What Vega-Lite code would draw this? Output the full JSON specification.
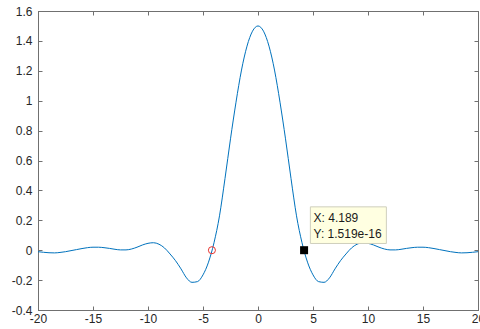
{
  "$schema": "https://vega.github.io/schema/vega-lite/v6.json",
  "width": 440,
  "height": 299,
  "autosize": {"type": "none"},
  "padding": {"left": 38, "top": 11, "right": 2, "bottom": 19},
  "background": "white",
  "config": {
    "view": {"stroke": "#707070", "strokeWidth": 1},
    "axis": {
      "grid": false,
      "domainColor": "#707070",
      "tickColor": "#707070",
      "labelColor": "#262626",
      "labelFont": "Liberation Sans",
      "labelFontSize": 12,
      "tickSize": -4,
      "title": null
    }
  },
  "datasets": {
    "curve": [
      {"x": -20, "y": -0.01}, {"x": -19.5, "y": -0.014}, {"x": -19, "y": -0.017}, {"x": -18.5, "y": -0.018},
      {"x": -18, "y": -0.015}, {"x": -17.5, "y": -0.01}, {"x": -17, "y": -0.003}, {"x": -16.5, "y": 0.004},
      {"x": -16, "y": 0.011}, {"x": -15.5, "y": 0.017}, {"x": -15, "y": 0.02}, {"x": -14.5, "y": 0.02},
      {"x": -14, "y": 0.017}, {"x": -13.5, "y": 0.012}, {"x": -13, "y": 0.006}, {"x": -12.5, "y": 0.002},
      {"x": -12, "y": 0.002}, {"x": -11.5, "y": 0.008}, {"x": -11, "y": 0.02}, {"x": -10.5, "y": 0.035},
      {"x": -10, "y": 0.046}, {"x": -9.5, "y": 0.05}, {"x": -9, "y": 0.04}, {"x": -8.5, "y": 0.015},
      {"x": -8, "y": -0.025}, {"x": -7.5, "y": -0.07}, {"x": -7, "y": -0.125}, {"x": -6.5, "y": -0.185},
      {"x": -6, "y": -0.215}, {"x": -5.5, "y": -0.21}, {"x": -5, "y": -0.165}, {"x": -4.5, "y": -0.08},
      {"x": -4, "y": 0.05}, {"x": -3.5, "y": 0.23}, {"x": -3, "y": 0.48}, {"x": -2.5, "y": 0.745},
      {"x": -2, "y": 0.99}, {"x": -1.5, "y": 1.205}, {"x": -1, "y": 1.365}, {"x": -0.5, "y": 1.465},
      {"x": 0, "y": 1.5},
      {"x": 0.5, "y": 1.465}, {"x": 1, "y": 1.365}, {"x": 1.5, "y": 1.205}, {"x": 2, "y": 0.99},
      {"x": 2.5, "y": 0.745}, {"x": 3, "y": 0.48}, {"x": 3.5, "y": 0.23}, {"x": 4, "y": 0.05},
      {"x": 4.5, "y": -0.08}, {"x": 5, "y": -0.165}, {"x": 5.5, "y": -0.21}, {"x": 6, "y": -0.215},
      {"x": 6.5, "y": -0.185}, {"x": 7, "y": -0.125}, {"x": 7.5, "y": -0.07}, {"x": 8, "y": -0.025},
      {"x": 8.5, "y": 0.015}, {"x": 9, "y": 0.04}, {"x": 9.5, "y": 0.05}, {"x": 10, "y": 0.046},
      {"x": 10.5, "y": 0.035}, {"x": 11, "y": 0.02}, {"x": 11.5, "y": 0.008}, {"x": 12, "y": 0.002},
      {"x": 12.5, "y": 0.002}, {"x": 13, "y": 0.006}, {"x": 13.5, "y": 0.012}, {"x": 14, "y": 0.017},
      {"x": 14.5, "y": 0.02}, {"x": 15, "y": 0.02}, {"x": 15.5, "y": 0.017}, {"x": 16, "y": 0.011},
      {"x": 16.5, "y": 0.004}, {"x": 17, "y": -0.003}, {"x": 17.5, "y": -0.01}, {"x": 18, "y": -0.015},
      {"x": 18.5, "y": -0.018}, {"x": 19, "y": -0.017}, {"x": 19.5, "y": -0.014}, {"x": 20, "y": -0.01}
    ],
    "tipbox": [{"x1": 4.76, "x2": 11.67, "y1": 0.045, "y2": 0.29}],
    "tiptext": [
      {"x": 5.05, "y": 0.215, "label": "X: 4.189"},
      {"x": 5.05, "y": 0.11, "label": "Y: 1.519e-16"}
    ],
    "circle": [{"x": -4.189, "y": 0}],
    "marker": [{"x": 4.189, "y": 0}]
  },
  "resolve": {"axis": {"x": "independent", "y": "independent"}},
  "layer": [
    {
      "data": {"name": "curve"},
      "mark": {"type": "line", "color": "#0072BD", "strokeWidth": 1, "interpolate": "monotone"},
      "encoding": {
        "x": {"field": "x", "type": "quantitative", "scale": {"domain": [-20, 20], "nice": false, "zero": false},
              "axis": {"orient": "bottom", "values": [-20, -15, -10, -5, 0, 5, 10, 15, 20], "labelExpr": "'' + datum.value", "labelPadding": 7, "labelFlush": false}},
        "y": {"field": "y", "type": "quantitative", "scale": {"domain": [-0.4, 1.6], "nice": false, "zero": false},
              "axis": {"orient": "left", "values": [-0.4, -0.2, 0, 0.2, 0.4, 0.6, 0.8, 1, 1.2, 1.4, 1.6], "labelExpr": "'' + datum.value", "labelPadding": 10, "labelFlush": false}}
      }
    },
    {
      "data": {"name": "tipbox"},
      "mark": {"type": "rect", "fill": "#ffffe1", "stroke": "#cfcfbd", "strokeWidth": 1},
      "encoding": {
        "x": {"field": "x1", "type": "quantitative", "axis": {"orient": "top", "labels": false, "values": [-20, -15, -10, -5, 0, 5, 10, 15, 20]}},
        "x2": {"field": "x2"},
        "y": {"field": "y1", "type": "quantitative", "axis": {"orient": "right", "labels": false, "values": [-0.4, -0.2, 0, 0.2, 0.4, 0.6, 0.8, 1, 1.2, 1.4, 1.6]}},
        "y2": {"field": "y2"}
      }
    },
    {
      "data": {"name": "tiptext"},
      "mark": {"type": "text", "align": "left", "baseline": "middle", "font": "Liberation Sans", "fontSize": 12, "color": "#1a1a1a"},
      "encoding": {
        "x": {"field": "x", "type": "quantitative", "axis": null},
        "y": {"field": "y", "type": "quantitative", "axis": null},
        "text": {"field": "label"}
      }
    },
    {
      "data": {"name": "circle"},
      "mark": {"type": "point", "shape": "circle", "filled": false, "stroke": "#e8342f", "strokeWidth": 1, "size": 50, "opacity": 1},
      "encoding": {
        "x": {"field": "x", "type": "quantitative", "axis": null},
        "y": {"field": "y", "type": "quantitative", "axis": null}
      }
    },
    {
      "data": {"name": "marker"},
      "mark": {"type": "square", "color": "#000000", "size": 64, "opacity": 1},
      "encoding": {
        "x": {"field": "x", "type": "quantitative", "axis": null},
        "y": {"field": "y", "type": "quantitative", "axis": null}
      }
    }
  ]
}
